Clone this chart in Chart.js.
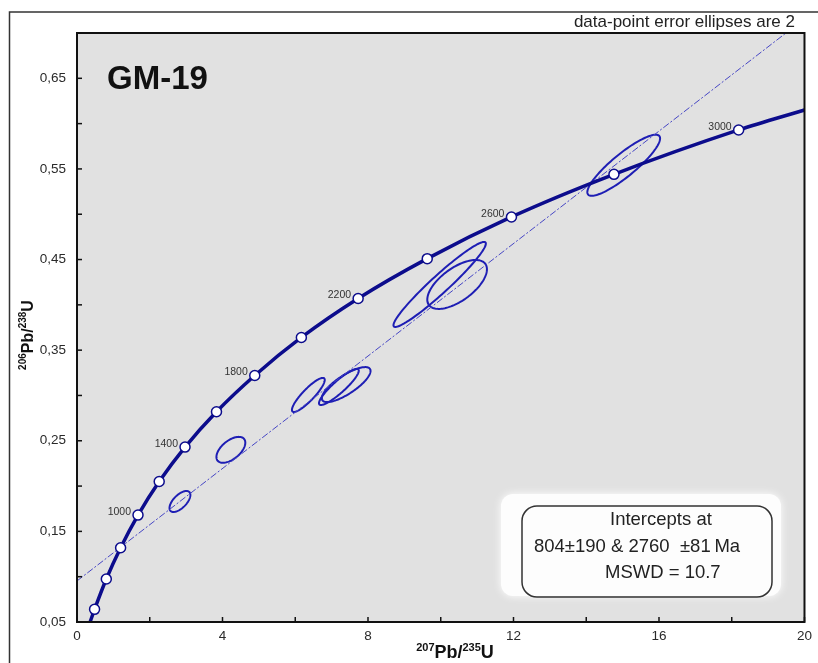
<!DOCTYPE html>
<html>
<head>
<meta charset="utf-8">
<script src="https://cdn.jsdelivr.net/npm/chart.js@4"></script>
<style>
body { margin: 0; background: #fff; }
canvas { display: block; }
</style>
</head>
<body>
<canvas id="conc" width="818" height="663"></canvas>
<script>
// concordia age marks (Ma) and their positions
var markAges = [400, 600, 800, 1000, 1200, 1400, 1600, 1800, 2000, 2200, 2400, 2600, 2800, 3000];
var markX = [0.483, 0.806, 1.199, 1.677, 2.260, 2.970, 3.835, 4.887, 6.168, 7.729, 9.629, 11.944, 14.762, 18.19];
var markY = [0.064, 0.0975, 0.132, 0.168, 0.205, 0.243, 0.282, 0.322, 0.364, 0.407, 0.451, 0.497, 0.544, 0.593];
var labelledAges = [1000, 1400, 1800, 2200, 2600, 3000];

// where the curve leaves the plot
var curveStart = [0.36, 0.05];
var curveEnd = [20, 0.615];

// discordia through the two intercepts
var discX = [0, 19.49];
var discY = [0.0953, 0.70];

// error ellipses: centre, half-extent in x and y, correlation
var ellX   = [2.83, 4.23, 6.36, 7.20, 7.40, 9.97, 10.45, 15.03];
var ellY   = [0.183, 0.240, 0.3006, 0.3094, 0.312, 0.4225, 0.4225, 0.554];
var ellDX  = [0.287, 0.397, 0.451, 0.547, 0.67, 1.27, 0.82, 1.0];
var ellDY  = [0.0116, 0.0143, 0.0188, 0.0199, 0.0193, 0.0469, 0.027, 0.0337];
var ellRho = [0.62, 0.55, 0.88, 0.9, 0.78, 0.96, 0.62, 0.88];

var xTicks = [0, 4, 8, 12, 16, 20];
var yTicks = [0.05, 0.15, 0.25, 0.35, 0.45, 0.55, 0.65];

var NAVY = "#0c0c8c";
var BLUE = "#1e1eb4";
var FONT = "'Liberation Sans', Arial, sans-serif";

var markPts = markX.map(function (x, i) { return {x: x, y: markY[i]}; });
var curvePts = [{x: curveStart[0], y: curveStart[1]}].concat(markPts, [{x: curveEnd[0], y: curveEnd[1]}]);
var discPts = discX.map(function (x, i) { return {x: x, y: discY[i]}; });

function drawSup(ctx, parts, cx, cy, big, small) {
	var w = 0;
	parts.forEach(function (p) {
		ctx.font = "bold " + (p[1] ? small : big) + "px " + FONT;
		w += ctx.measureText(p[0]).width;
	});
	var x = cx - w / 2;
	ctx.textBaseline = "alphabetic";
	ctx.textAlign = "left";
	parts.forEach(function (p) {
		ctx.font = "bold " + (p[1] ? small : big) + "px " + FONT;
		ctx.fillText(p[0], x, cy + big * 0.36 - (p[1] ? big * 0.42 : 0));
		x += ctx.measureText(p[0]).width;
	});
}

function roundRect(ctx, x, y, w, h, r) {
	ctx.beginPath();
	ctx.moveTo(x + r, y);
	ctx.arcTo(x + w, y, x + w, y + h, r);
	ctx.arcTo(x + w, y + h, x, y + h, r);
	ctx.arcTo(x, y + h, x, y, r);
	ctx.arcTo(x, y, x + w, y, r);
	ctx.closePath();
}

var decor = {
	id: "decor",
	beforeDraw: function (chart) {
		var ctx = chart.ctx, a = chart.chartArea;
		ctx.save();
		ctx.fillStyle = "#fff";
		ctx.fillRect(0, 0, chart.width, chart.height);
		ctx.fillStyle = "#e1e1e1";
		ctx.fillRect(a.left, a.top, a.right - a.left, a.bottom - a.top);
		ctx.restore();
	},
	beforeDatasetsDraw: function (chart) {
		var ctx = chart.ctx, a = chart.chartArea;
		var xs = chart.scales.x, ys = chart.scales.y;
		ctx.save();
		ctx.beginPath();
		ctx.rect(a.left, a.top, a.right - a.left, a.bottom - a.top);
		ctx.clip();
		ctx.strokeStyle = BLUE;
		ctx.lineWidth = 2;
		for (var i = 0; i < ellX.length; i++) {
			var s = Math.sqrt(1 - ellRho[i] * ellRho[i]);
			ctx.beginPath();
			for (var k = 0; k <= 120; k++) {
				var t = k / 120 * Math.PI * 2;
				var px = xs.getPixelForValue(ellX[i] + ellDX[i] * Math.cos(t));
				var py = ys.getPixelForValue(ellY[i] + ellDY[i] * (ellRho[i] * Math.cos(t) + s * Math.sin(t)));
				if (k === 0) ctx.moveTo(px, py); else ctx.lineTo(px, py);
			}
			ctx.closePath();
			ctx.stroke();
		}
		ctx.restore();
	},
	afterDatasetsDraw: function (chart) {
		var ctx = chart.ctx, a = chart.chartArea;
		var xs = chart.scales.x, ys = chart.scales.y;
		ctx.save();

		// plot frame and inner ticks
		ctx.strokeStyle = "#111";
		ctx.lineWidth = 2;
		ctx.strokeRect(a.left, a.top, a.right - a.left, a.bottom - a.top);
		ctx.lineWidth = 1.5;
		xs.ticks.forEach(function (t) {
			var px = xs.getPixelForValue(t.value);
			ctx.beginPath(); ctx.moveTo(px, a.bottom); ctx.lineTo(px, a.bottom - 5); ctx.stroke();
		});
		ys.ticks.forEach(function (t) {
			var py = ys.getPixelForValue(t.value);
			ctx.beginPath(); ctx.moveTo(a.left, py); ctx.lineTo(a.left + 5, py); ctx.stroke();
		});

		// outer frame
		ctx.strokeStyle = "#333";
		ctx.lineWidth = 1.5;
		ctx.beginPath();
		ctx.moveTo(9.5, chart.height);
		ctx.lineTo(9.5, 12);
		ctx.lineTo(chart.width, 12);
		ctx.stroke();

		// age labels
		ctx.fillStyle = "#333";
		ctx.font = "10.5px " + FONT;
		ctx.textAlign = "right";
		ctx.textBaseline = "middle";
		markAges.forEach(function (age, i) {
			if (labelledAges.indexOf(age) < 0) return;
			ctx.fillText(String(age), xs.getPixelForValue(markX[i]) - 7, ys.getPixelForValue(markY[i]) - 3);
		});

		// intercept box
		ctx.save();
		ctx.shadowColor = "rgba(255,255,255,1)";
		ctx.shadowBlur = 8;
		ctx.fillStyle = "#fdfdfd";
		roundRect(ctx, 501, 494, 280, 102, 12);
		ctx.fill();
		ctx.restore();
		ctx.strokeStyle = "#333";
		ctx.lineWidth = 1.5;
		roundRect(ctx, 522, 506, 250, 91, 15);
		ctx.stroke();
		ctx.fillStyle = "#222";
		ctx.font = "18.5px " + FONT;
		ctx.textAlign = "left";
		ctx.textBaseline = "middle";
		ctx.fillText("Intercepts at", 610, 520);
		ctx.fillText("804\u00b1190 & 2760  \u00b181\u2009Ma", 534, 547);
		ctx.fillText("MSWD = 10.7", 605, 573);

		// sample name and note
		ctx.fillStyle = "#111";
		ctx.font = "bold 33px " + FONT;
		ctx.fillText("GM-19", 107, 80);
		ctx.fillStyle = "#222";
		ctx.font = "17px " + FONT;
		ctx.textAlign = "right";
		ctx.fillText("data-point error ellipses are 2", 795, 22);

		// axis titles
		ctx.fillStyle = "#111";
		drawSup(ctx, [["207", true], ["Pb/", false], ["235", true], ["U", false]], 455, 652, 18, 11);
		ctx.translate(27, 335);
		ctx.rotate(-Math.PI / 2);
		drawSup(ctx, [["206", true], ["Pb/", false], ["238", true], ["U", false]], 0, 0, 16, 10);
		ctx.restore();
	}
};

new Chart(document.getElementById("conc").getContext("2d"), {
	type: "scatter",
	data: {
		datasets: [
			{
				data: markPts,
				pointRadius: 5,
				pointBackgroundColor: "#fff",
				pointBorderColor: NAVY,
				pointBorderWidth: 1.5,
				showLine: false
			},
			{
				data: curvePts,
				showLine: true,
				borderColor: NAVY,
				borderWidth: 3.5,
				pointRadius: 0,
				cubicInterpolationMode: "monotone"
			},
			{
				data: discPts,
				showLine: true,
				borderColor: "#4646c4",
				borderWidth: 1,
				borderDash: [7, 2, 2, 2],
				pointRadius: 0
			}
		]
	},
	options: {
		responsive: false,
		animation: false,
		layout: {padding: {top: 33, right: 10, left: 0, bottom: 0}},
		plugins: {legend: {display: false}, tooltip: {enabled: false}},
		scales: {
			x: {
				type: "linear", min: 0, max: 20,
				border: {display: false},
				grid: {display: false, drawTicks: false},
				ticks: {
					stepSize: 2, autoSkip: false, maxRotation: 0, padding: 6,
					color: "#2a2a2a", font: {family: FONT, size: 13.5},
					callback: function (v) { return xTicks.indexOf(v) >= 0 ? String(v) : ""; }
				},
				afterFit: function (s) { s.height = 41; }
			},
			y: {
				type: "linear", min: 0.05, max: 0.70,
				border: {display: false},
				grid: {display: false, drawTicks: false},
				ticks: {
					stepSize: 0.05, autoSkip: false, padding: 11,
					color: "#2a2a2a", font: {family: FONT, size: 13.5},
					callback: function (v) {
						var k = Math.round(v * 100);
						var hit = yTicks.some(function (t) { return Math.round(t * 100) === k; });
						return hit ? (k / 100).toFixed(2).replace(".", ",") : "";
					}
				},
				afterFit: function (s) { s.width = 77; }
			}
		}
	},
	plugins: [decor]
});
</script>
</body>
</html>
